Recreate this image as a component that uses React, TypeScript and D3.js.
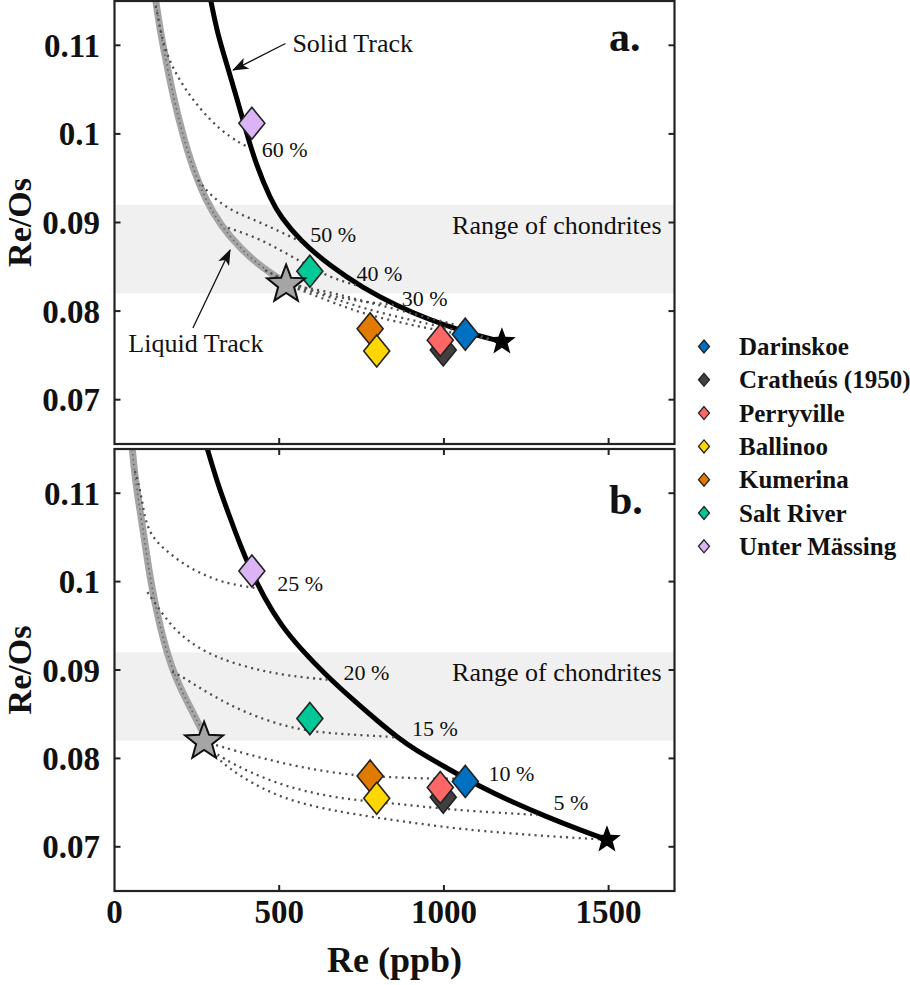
import React from "react";
import * as d3 from "d3";

const W = 910;
const H = 985;
const X_LEFT = 114.5;
const X_RIGHT = 674.5;
const FONT = "Liberation Serif, Times New Roman, Times, serif";

const xDomain = [0, 1700];
const yDomain = [0.065, 0.115];
const xTicks = [0, 500, 1000, 1500];
const xTickLabels = ["0", "500", "1000", "1500"];
const yTicks = [0.07, 0.08, 0.09, 0.1, 0.11];
const yTickLabels = ["0.07", "0.08", "0.09", "0.1", "0.11"];
const chondriteRange = [0.082, 0.092];

// Meteorite data (same in both panels)
const meteorites = ["Darinskoe", "Cratheús (1950)", "Perryville", "Ballinoo", "Kumerina", "Salt River", "Unter Mässing"];
const meteoriteColors = ["#0070C0", "#404040", "#FF6666", "#FFD700", "#E07B00", "#00C896", "#DAB4F5"];
const meteoriteRe = [1065, 998, 989, 796, 776, 593, 417];
const meteoriteReOs = [0.0774, 0.0756, 0.0767, 0.0755, 0.078, 0.0845, 0.1012];
const drawOrder = [1, 2, 4, 3, 0, 5, 6];

// Panel a curves [Re, Re/Os]
const solidTrackA = [[292, 0.1151], [312, 0.1114], [343, 0.1076], [373, 0.1038], [398, 0.1005], [429, 0.0966], [474, 0.0926], [505, 0.0906], [563, 0.088], [654, 0.0851], [755, 0.0826], [857, 0.0806], [958, 0.079], [1059, 0.0777], [1160, 0.0767]];
const liquidTrackA = [[125, 0.1151], [140, 0.1114], [160, 0.1076], [181, 0.1038], [206, 0.1001], [236, 0.0963], [277, 0.0925], [322, 0.0897], [381, 0.0871], [442, 0.0851], [503, 0.0836], [521, 0.083]];
const mixA60 = [[120, 0.1151], [132, 0.1133], [150, 0.1095], [201, 0.1057], [262, 0.1027], [322, 0.1004], [383, 0.0989], [402, 0.0986]];
const mixA50 = [[254, 0.0948], [290, 0.0931], [351, 0.0914], [411, 0.0905], [472, 0.0895], [523, 0.0886], [563, 0.0879]];
const mixA40 = [[345, 0.0894], [432, 0.0883], [503, 0.0869], [584, 0.0852], [654, 0.0838], [736, 0.0829]];
const mixA30 = [[457, 0.0846], [533, 0.0832], [624, 0.082], [715, 0.0813], [791, 0.0809], [852, 0.0807]];
const mixAS1 = [[521, 0.083], [654, 0.0822], [755, 0.0811], [867, 0.0801], [958, 0.0792], [1030, 0.0785]];
const mixAS2 = [[521, 0.083], [654, 0.0816], [755, 0.0803], [867, 0.0793], [958, 0.0785], [1080, 0.0775], [1176, 0.07655]];
const mixAS3 = [[521, 0.083], [654, 0.0811], [755, 0.0797], [867, 0.0787], [988, 0.0778], [1110, 0.077], [1176, 0.07655]];
const solidStarA = [1176, 0.07655];
const liquidStarA = [521, 0.083];

// Panel b curves
const solidTrackB = [[282, 0.115], [312, 0.1112], [348, 0.1075], [383, 0.104], [414, 0.1013], [454, 0.0982], [505, 0.0951], [565, 0.0924], [640, 0.0895], [725, 0.0866], [806, 0.084], [862, 0.0823], [907, 0.0811], [1009, 0.0789], [1110, 0.0768], [1211, 0.075], [1312, 0.0734], [1414, 0.0719], [1480, 0.071]];
const liquidTrackB = [[54, 0.115], [64, 0.1112], [80, 0.1075], [95, 0.1037], [110, 0.1], [130, 0.0963], [150, 0.0932], [172, 0.0905], [199, 0.088], [239, 0.0851], [265, 0.0832]];
const mixB25 = [[62, 0.1125], [80, 0.1101], [90, 0.10745], [110, 0.1052], [150, 0.1037], [201, 0.1022], [251, 0.1011], [302, 0.1003], [353, 0.0997], [439, 0.0992]];
const mixB20 = [[100, 0.0988], [150, 0.0961], [201, 0.0938], [301, 0.0914], [452, 0.0898], [563, 0.0892], [648, 0.0889]];
const mixB15 = [[175, 0.0898], [199, 0.0894], [300, 0.087], [401, 0.0851], [533, 0.0834], [654, 0.0828], [846, 0.08245], [861, 0.0823]];
const mixB10 = [[272, 0.0819], [309, 0.0815], [503, 0.0794], [705, 0.0781], [827, 0.0779], [958, 0.0777], [1064, 0.0777]];
const mixB05 = [[272, 0.0819], [310, 0.0802], [503, 0.0768], [705, 0.0753], [846, 0.07495], [1009, 0.0742], [1283, 0.0736]];
const mixBStar = [[272, 0.0819], [329, 0.0791], [503, 0.0753], [705, 0.0738], [867, 0.0729], [1110, 0.0717], [1444, 0.0709], [1495, 0.0708]];
const solidStarB = [1495, 0.0708];
const liquidStarB = [272, 0.0819];

// Percentage labels [Re, Re/Os, text]
const pctLabelsA = [[447, 0.0974, "60 %"], [594, 0.0878, "50 %"], [735, 0.0834, "40 %"], [872, 0.0806, "30 %"]];
const pctLabelsB = [[494, 0.0989, "25 %"], [695, 0.0889, "20 %"], [903, 0.0825, "15 %"], [1135, 0.0774, "10 %"], [1333, 0.0742, "5 %"]];

const panels = [
  {
    top: 1, bottom: 444, letter: "a.", letterY: 50,
    solid: solidTrackA, liquid: liquidTrackA,
    mixes: [mixA60, mixA50, mixA40, mixA30, mixAS1, mixAS2, mixAS3],
    solidStar: solidStarA, liquidStar: liquidStarA, pct: pctLabelsA,
    topTicks: false,
  },
  {
    top: 449, bottom: 891, letter: "b.", letterY: 65,
    solid: solidTrackB, liquid: liquidTrackB,
    mixes: [mixB25, mixB20, mixB15, mixB10, mixB05, mixBStar],
    solidStar: solidStarB, liquidStar: liquidStarB, pct: pctLabelsB,
    topTicks: true,
  },
];

function starPath(cx: number, cy: number, R: number, ratio = 0.42) {
  const pts: string[] = [];
  for (let i = 0; i < 10; i++) {
    const r = i % 2 === 0 ? R : R * ratio;
    const a = -Math.PI / 2 + (i * Math.PI) / 5;
    pts.push(`${(cx + r * Math.cos(a)).toFixed(2)},${(cy + r * Math.sin(a)).toFixed(2)}`);
  }
  return "M" + pts.join("L") + "Z";
}

function diamond(cx: number, cy: number, hw: number, hh: number) {
  return `M${cx},${cy - hh}L${cx + hw},${cy}L${cx},${cy + hh}L${cx - hw},${cy}Z`;
}

const x = d3.scaleLinear().domain(xDomain).range([X_LEFT, X_RIGHT]);

function Panel({ p, idx }: { p: any; idx: number }) {
  const y = d3.scaleLinear().domain(yDomain).range([p.bottom, p.top]);
  const line = d3
    .line<number[]>()
    .x((d) => x(d[0]))
    .y((d) => y(d[1]))
    .curve(d3.curveBasis);
  const clipId = `clip${idx}`;
  const tickLen = 6;
  return (
    <g>
      <defs>
        <clipPath id={clipId}>
          <rect x={X_LEFT} y={p.top} width={X_RIGHT - X_LEFT} height={p.bottom - p.top} />
        </clipPath>
      </defs>
      <rect x={X_LEFT} y={p.top} width={X_RIGHT - X_LEFT} height={p.bottom - p.top} fill="#fff" />
      <rect
        x={X_LEFT}
        y={y(chondriteRange[1])}
        width={X_RIGHT - X_LEFT}
        height={y(chondriteRange[0]) - y(chondriteRange[1])}
        fill="#F0F0F0"
      />
      <text x={X_RIGHT - 13} y={y(chondriteRange[1]) + 29} fontSize={26} fontFamily={FONT} textAnchor="end" fill="#111">
        Range of chondrites
      </text>
      <g clipPath={`url(#${clipId})`}>
        <path d={line(p.liquid) || ""} fill="none" stroke="#A5A5A5" strokeWidth={7} />
        <path d={line(p.liquid) || ""} fill="none" stroke="#666" strokeWidth={1.6} strokeDasharray="1.5 3.5" />
        <path d={line(p.solid) || ""} fill="none" stroke="#000" strokeWidth={5} />
        {p.mixes.map((m: number[][], i: number) => (
          <path key={i} d={line(m) || ""} fill="none" stroke="#4d4d4d" strokeWidth={2.3} strokeDasharray="2 4.3" />
        ))}
      </g>
      {p.pct.map((l: any[], i: number) => (
        <text key={i} x={x(l[0])} y={y(l[1])} fontSize={22} fontFamily={FONT} fill="#111">
          {l[2]}
        </text>
      ))}
      {drawOrder.map((k) => (
        <path
          key={k}
          d={diamond(x(meteoriteRe[k]), y(meteoriteReOs[k]), 13, 16)}
          fill={meteoriteColors[k]}
          stroke="#222"
          strokeWidth={1.6}
        />
      ))}
      <path d={starPath(x(p.liquidStar[0]), y(p.liquidStar[1]), 20, 0.42)} fill="#A5A5A5" stroke="#111" strokeWidth={2} />
      <path d={starPath(x(p.solidStar[0]), y(p.solidStar[1]), 14.5, 0.42)} fill="#000" />
      <rect x={X_LEFT} y={p.top} width={X_RIGHT - X_LEFT} height={p.bottom - p.top} fill="none" stroke="#222" strokeWidth={2.2} />
      {yTicks.map((t, i) => (
        <g key={i}>
          <line x1={X_LEFT} x2={X_LEFT + tickLen} y1={y(t)} y2={y(t)} stroke="#222" strokeWidth={2} />
          <line x1={X_RIGHT} x2={X_RIGHT - tickLen} y1={y(t)} y2={y(t)} stroke="#222" strokeWidth={2} />
          <text
            x={100}
            y={y(t)}
            dy="0.35em"
            textAnchor="end"
            fontSize={33}
            fontWeight="bold"
            fontFamily={FONT}
            fill="#111"
          >
            {yTickLabels[i]}
          </text>
        </g>
      ))}
      {xTicks.slice(1).map((t, i) => (
        <g key={i}>
          <line x1={x(t)} x2={x(t)} y1={p.bottom} y2={p.bottom - tickLen} stroke="#222" strokeWidth={2} />
          {p.topTicks && <line x1={x(t)} x2={x(t)} y1={p.top} y2={p.top + tickLen} stroke="#222" strokeWidth={2} />}
        </g>
      ))}
      <text
        transform={`translate(31,${(p.top + p.bottom) / 2}) rotate(-90)`}
        textAnchor="middle"
        fontSize={34}
        fontWeight="bold"
        fontFamily={FONT}
        fill="#111"
      >
        Re/Os
      </text>
      <text x={609} y={p.top + p.letterY} fontSize={42} fontWeight="bold" fontFamily={FONT} fill="#111">
        {p.letter}
      </text>
    </g>
  );
}

// Annotations for panel a: [Re, Re/Os]
const solidArrow = [[519, 0.1102], [360, 0.1072]];
const liquidArrow = [[238, 0.0781], [351, 0.0869]];
const solidLabelPos = [540, 0.1092];
const liquidLabelPos = [42, 0.0754];

export default function App() {
  const ya = d3.scaleLinear().domain(yDomain).range([panels[0].bottom, panels[0].top]);
  const legendX = 704;
  const legendY0 = 346.5;
  const legendDy = 33.3;
  return (
    <svg
      width={W}
      height={H}
      viewBox={`0 0 ${W} ${H}`}
      style={{ position: "absolute", left: 0, top: 0, background: "#fff" }}
    >
      <defs>
        <marker id="arrowHead" markerWidth={16} markerHeight={12} refX={15} refY={6} orient="auto" markerUnits="userSpaceOnUse">
          <path d="M0,0 L16,6 L0,12 L4,6 Z" fill="#111" />
        </marker>
      </defs>
      <rect width={W} height={H} fill="#fff" />
      {panels.map((p, i) => (
        <Panel key={i} p={p} idx={i} />
      ))}
      <line
        x1={x(solidArrow[0][0])}
        y1={ya(solidArrow[0][1])}
        x2={x(solidArrow[1][0])}
        y2={ya(solidArrow[1][1])}
        stroke="#111"
        strokeWidth={1.3}
        markerEnd="url(#arrowHead)"
      />
      <text x={x(solidLabelPos[0])} y={ya(solidLabelPos[1])} fontSize={26} fontFamily={FONT} fill="#111">
        Solid Track
      </text>
      <line
        x1={x(liquidArrow[0][0])}
        y1={ya(liquidArrow[0][1])}
        x2={x(liquidArrow[1][0])}
        y2={ya(liquidArrow[1][1])}
        stroke="#111"
        strokeWidth={1.3}
        markerEnd="url(#arrowHead)"
      />
      <text x={x(liquidLabelPos[0])} y={ya(liquidLabelPos[1])} fontSize={26} fontFamily={FONT} fill="#111">
        Liquid Track
      </text>
      {xTicks.map((t, i) => (
        <text
          key={i}
          x={x(t)}
          y={923}
          textAnchor="middle"
          fontSize={33}
          fontWeight="bold"
          fontFamily={FONT}
          fill="#111"
        >
          {xTickLabels[i]}
        </text>
      ))}
      <text x={(X_LEFT + X_RIGHT) / 2} y={972} textAnchor="middle" fontSize={36} fontWeight="bold" fontFamily={FONT} fill="#111">
        Re (ppb)
      </text>
      {meteorites.map((m, i) => (
        <g key={i}>
          <path d={diamond(legendX, legendY0 + i * legendDy, 5.5, 6.5)} fill={meteoriteColors[i]} stroke="#222" strokeWidth={1.3} />
          <text x={739} y={legendY0 + i * legendDy + 8.5} fontSize={25} fontWeight="bold" fontFamily={FONT} fill="#111">
            {m}
          </text>
        </g>
      ))}
    </svg>
  );
}
